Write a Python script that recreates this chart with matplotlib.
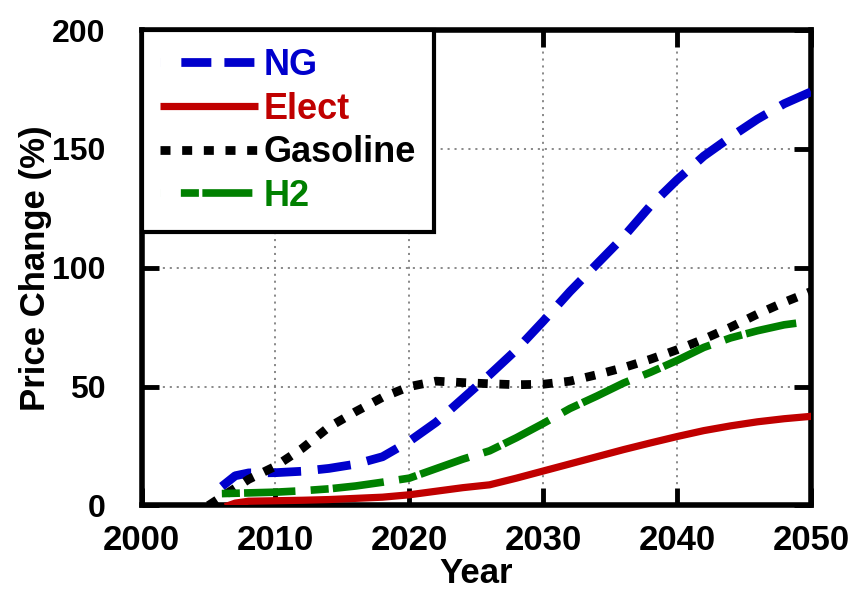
import matplotlib
matplotlib.use('Agg')
import matplotlib.pyplot as plt
from matplotlib.lines import Line2D

plt.rcParams['font.family'] = ['Liberation Sans', 'DejaVu Sans']
plt.rcParams['font.weight'] = 'bold'
plt.rcParams['lines.scale_dashes'] = False

# data
ng_years = [2006, 2007, 2008, 2010, 2012, 2014, 2016, 2018, 2020, 2022, 2024, 2026,
            2028, 2030, 2032, 2034, 2036, 2038, 2040, 2042, 2044, 2046, 2048, 2050]
ng = [8, 12.5, 13.7, 13.8, 14.4, 15.6, 17.4, 20.5, 27, 35, 45, 55,
      65.5, 77.5, 90, 101.5, 113, 126, 137, 147, 155, 162.5, 169, 174]

el_years = [2006.5, 2007, 2008, 2010, 2012, 2014, 2016, 2018, 2020, 2022, 2024, 2026,
            2028, 2030, 2032, 2034, 2036, 2038, 2040, 2042, 2044, 2046, 2048, 2050]
el = [0, 1, 1.8, 2, 2.2, 2.5, 3, 3.5, 4.5, 6, 7.5, 8.7,
      11.5, 14.5, 17.5, 20.5, 23.5, 26.3, 29, 31.5, 33.5, 35.2, 36.5, 37.5]

gas_years = [2005, 2006, 2007, 2008, 2010, 2012, 2014, 2016, 2018, 2020, 2022, 2024, 2026,
             2028, 2030, 2032, 2034, 2036, 2038, 2040, 2042, 2044, 2046, 2048, 2050]
gas = [0, 3.7, 7.3, 11, 16.5, 24, 33, 39.5, 45.5, 50, 52.3, 51.7, 51.2,
       50.8, 51, 52.3, 55, 58, 61.5, 65.5, 70, 75, 80.5, 85.5, 90]

h2_years = [2006, 2008, 2010, 2012, 2014, 2016, 2018, 2020, 2022, 2024, 2026,
            2028, 2030, 2032, 2034, 2036, 2038, 2040, 2042, 2044, 2046, 2048, 2050]
h2 = [5, 5.3, 5.6, 6.2, 7, 8.2, 9.8, 11.5, 15.5, 19.5, 23,
      28.5, 34.5, 40.8, 46, 51.5, 56, 61, 66.5, 70.5, 73.5, 76, 77.5]

labels = ['NG', 'Elect', 'Gasoline', 'H2']
colors = ['#0000CC', '#C00000', '#000000', '#008000']

x_ticks = [2000, 2010, 2020, 2030, 2040, 2050]
y_ticks = [0, 50, 100, 150, 200]

fig = plt.figure(figsize=(8.55, 5.98), dpi=100)
ax = fig.add_axes([0.1655, 0.1547, 0.783, 0.7951])

ax.plot(ng_years, ng, color=colors[0], lw=6.3, linestyle=(0, (24, 12)),
        dash_capstyle='butt', zorder=3)
ax.plot(el_years, el, color=colors[1], lw=5.2, linestyle='-', zorder=3)
ax.plot(gas_years, gas, color=colors[2], lw=6.3, linestyle=(0, (7.2, 8.4)),
        dash_capstyle='butt', zorder=3)
ax.plot(h2_years, h2, color=colors[3], lw=5.5, linestyle=(0, (13, 3, 37, 11)),
        dash_capstyle='butt', zorder=3)

ax.set_xlim(2000, 2050)
ax.set_ylim(0, 200)
ax.set_xticks(x_ticks)
ax.set_yticks(y_ticks)
ax.grid(True, color='#808080', linestyle=(0, (1.5, 3.5)), linewidth=1.3)
ax.set_axisbelow(True)

for s in ax.spines.values():
    s.set_linewidth(4)
ax.tick_params(direction='in', length=12, width=3.5, top=True, right=True)
ax.tick_params(axis='x', labelsize=25, pad=13)
ax.tick_params(axis='y', labelsize=23, pad=26)

ax.set_xlabel('Year', fontsize=25, fontweight='bold', labelpad=0)
ax.set_ylabel('Price Change (%)', fontsize=25, fontweight='bold', labelpad=0)

# legend proxies mimic the dash phase shown in the legend box
handles = [
    Line2D([], [], color=colors[0], lw=6.3, linestyle=(0, (0.01, 15, 21.6, 9.4, 21.6, 60)),
           dash_capstyle='butt'),
    Line2D([], [], color=colors[1], lw=5.2, linestyle='-', solid_capstyle='butt'),
    Line2D([], [], color=colors[2], lw=6.3, linestyle=(0, (7.2, 8.4)), dash_capstyle='butt'),
    Line2D([], [], color=colors[3], lw=5.5, linestyle=(0, (0.01, 15, 13, 2.5, 36, 60)),
           dash_capstyle='butt'),
]
leg = ax.legend(handles, labels, loc='upper left', bbox_to_anchor=(0, 1),
                borderaxespad=0, fontsize=26, handlelength=2.72, handletextpad=0.15,
                borderpad=0.5, labelspacing=0.24, fancybox=False, framealpha=1,
                edgecolor='black', labelcolor=colors)
leg.get_frame().set_linewidth(3)
leg.set_zorder(5)

fig.savefig('out.png', dpi=100)
